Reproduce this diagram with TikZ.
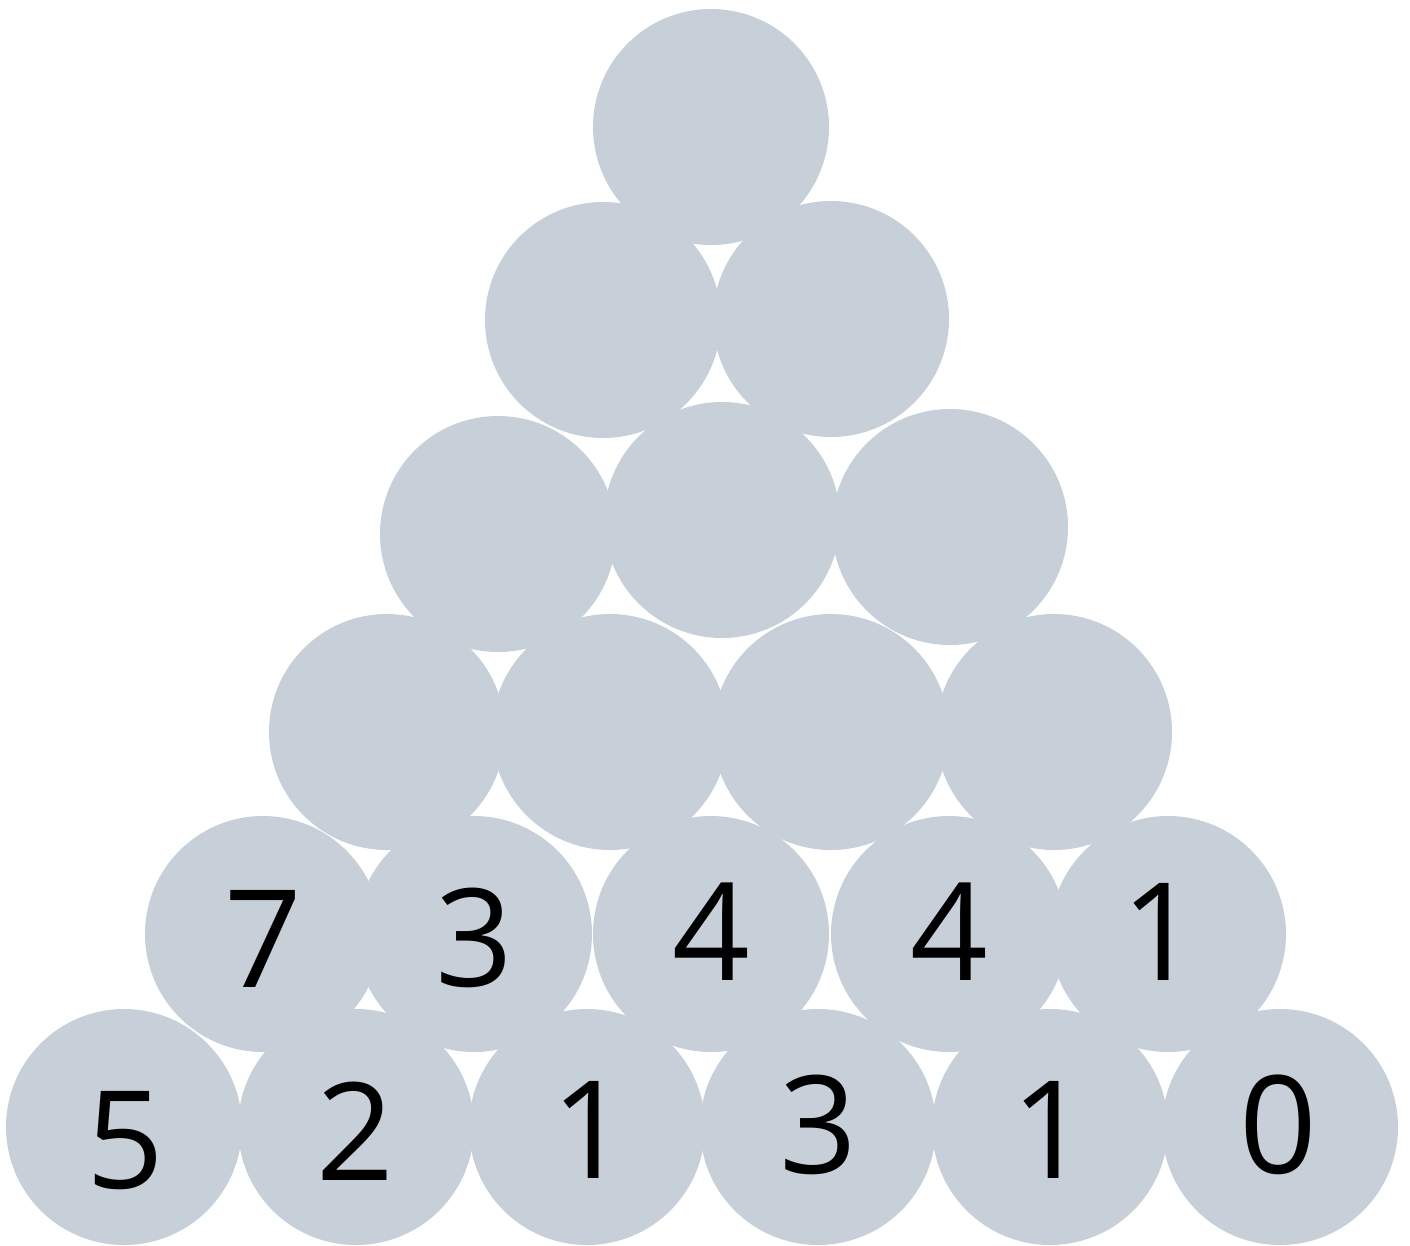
\documentclass[tikz,border=0pt]{standalone}
\usepackage{fontspec}
\setmainfont{Open Sans}
\definecolor{ball}{HTML}{C7D0D9}
\begin{document}
\begin{tikzpicture}[x=1pt,y=-1pt,
  ball/.style={circle,fill=ball,draw=none,minimum size=236pt,inner sep=0pt},
  num/.style={anchor=base,inner sep=0pt,font=\fontsize{136}{150}\selectfont}]
\useasboundingbox (0,0) rectangle (1410,1245);
% row 1
\node[ball] (c11) at (711,127) {};
% row 2
\node[ball] (c21) at (603,320) {};
\node[ball] (c22) at (831,319) {};
% row 3
\node[ball] (c31) at (498,534) {};
\node[ball] (c32) at (722,520) {};
\node[ball] (c33) at (950,527) {};
% row 4
\node[ball] (c41) at (387,732) {};
\node[ball] (c42) at (610,732) {};
\node[ball] (c43) at (831,732) {};
\node[ball] (c44) at (1054,732) {};
% row 5
\node[ball] (c51) at (263,934) {};
\node[ball] (c52) at (474,934) {};
\node[ball] (c53) at (711,934) {};
\node[ball] (c54) at (949,934) {};
\node[ball] (c55) at (1168,934) {};
% row 6
\node[ball] (c61) at (124,1127) {};
\node[ball] (c62) at (356,1127) {};
\node[ball] (c63) at (587,1127) {};
\node[ball] (c64) at (818,1127) {};
\node[ball] (c65) at (1050,1127) {};
\node[ball] (c66) at (1280,1127) {};
% numbers
\node[num] (n51) at (263,987) {7};
\node[num] (n52) at (474,986) {3};
\node[num] (n53) at (711,980) {4};
\node[num] (n54) at (949,980) {4};
\node[num] (n55) at (1160,980) {1};
\node[num] (n61) at (125,1188) {5};
\node[num] (n62) at (355,1180) {2};
\node[num] (n63) at (590,1178) {1};
\node[num] (n64) at (818,1173) {3};
\node[num] (n65) at (1050,1178) {1};
\node[num] (n66) at (1278,1173) {0};
\end{tikzpicture}
\end{document}
